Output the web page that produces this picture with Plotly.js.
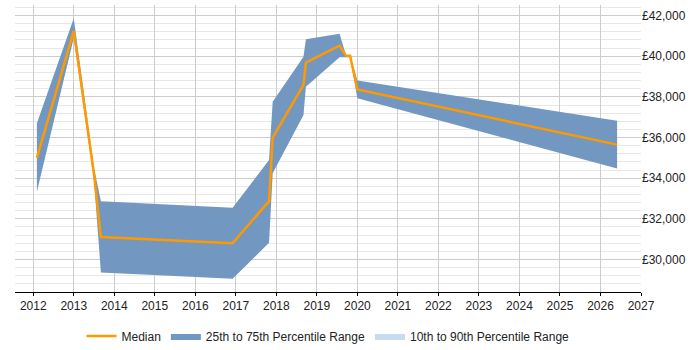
<!DOCTYPE html>
<html>
<head>
<meta charset="utf-8">
<script src="https://cdn.plot.ly/plotly-3.0.1.min.js"></script>
<style>html,body{margin:0;padding:0;background:#fff}#chart{width:700px;height:350px}</style>
</head>
<body>
<div id="chart"></div>
<script>
const dates = [2012.09, 2013.0, 2013.5, 2013.67, 2016.92, 2017.82, 2017.91, 2018.67, 2018.73, 2019.56, 2019.72, 2019.82, 2020.0, 2026.41];
const median = [35000, 41250, 34200, 31100, 30800, 32870, 35990, 38590, 39690, 40520, 40020, 40020, 38370, 35650];
const p75 = [36700, 41870, 34500, 32870, 32540, 34890, 37760, 39980, 40840, 41100, 40050, 40050, 38800, 36830];
const p25 = [33330, 40900, 33900, 29360, 29050, 30820, 34240, 37110, 38500, 39950, 39950, 39950, 37930, 34480];
const yTicks = [30000, 32000, 34000, 36000, 38000, 40000, 42000];
const yTickLabels = ['£30,000', '£32,000', '£34,000', '£36,000', '£38,000', '£40,000', '£42,000'];
const xTicks = [2012,2013,2014,2015,2016,2017,2018,2019,2020,2021,2022,2023,2024,2025,2026,2027];

const band = 'rgb(114,151,192)';
const traces = [
  {x: dates, y: p25, type: 'scatter', mode: 'lines', line: {width: 0, color: band}, showlegend: false, hoverinfo: 'skip'},
  {x: dates, y: p75, type: 'scatter', mode: 'lines', line: {width: 0, color: band}, fill: 'tonexty', fillcolor: band, name: '25th to 75th Percentile Range', legendrank: 2},
  {x: [null], y: [null], type: 'scatter', mode: 'lines', line: {width: 0, color: '#c9dbee'}, fill: 'toself', fillcolor: '#c9dbee', name: '10th to 90th Percentile Range', legendrank: 3},
  {x: dates, y: median, type: 'scatter', mode: 'lines', line: {width: 2.5, color: '#ff9900'}, name: 'Median', legendrank: 1}
];
const layout = {
  width: 700, height: 350,
  margin: {l: 15, r: 59, t: 5, b: 58},
  paper_bgcolor: '#fff', plot_bgcolor: '#fff',
  font: {family: 'Liberation Sans, Arial, sans-serif', size: 12, color: '#222'},
  showlegend: true,
  legend: {orientation: 'h', traceorder: 'normal', x: 0.5, xanchor: 'center', xref: 'paper', yref: 'container', y: 0.04, yanchor: 'middle', font: {size: 12, color: '#222'}},
  xaxis: {range: [2011.55, 2027], tickvals: xTicks, ticktext: xTicks.map(String), showgrid: true, gridcolor: '#cccccc', gridwidth: 1,
          showline: true, linecolor: '#000', linewidth: 1, ticks: 'outside', ticklen: 3, tickcolor: '#000', zeroline: false, fixedrange: true},
  yaxis: {side: 'right', range: [28400, 42520], tickvals: yTicks, ticktext: yTickLabels, showgrid: true, gridcolor: '#cccccc', gridwidth: 1,
          minor: {dtick: 400, tick0: 0, showgrid: true, gridcolor: '#e8e8e8', gridwidth: 1}, zeroline: false, showline: false, ticks: '', fixedrange: true}
};
Plotly.newPlot('chart', traces, layout, {displayModeBar: false, staticPlot: true});
</script>
</body>
</html>
